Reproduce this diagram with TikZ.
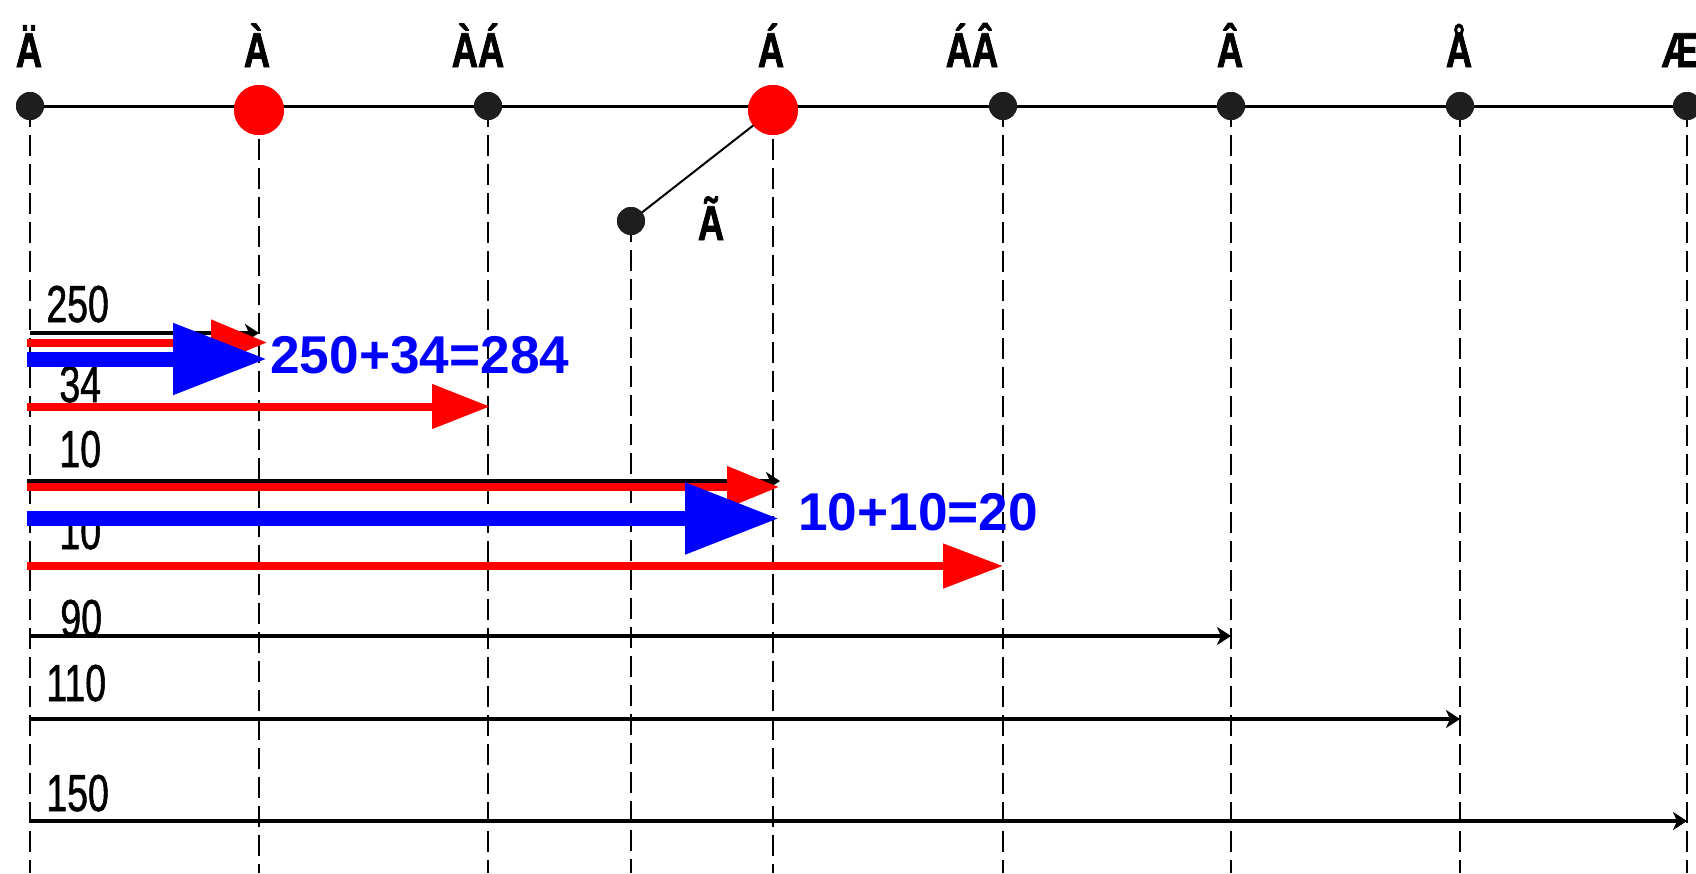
\documentclass[tikz,border=0pt]{standalone}
\usepackage{fontspec}
\setmainfont{Liberation Sans}
\newfontfamily\narrowfont[FakeStretch=0.72,FakeBold=1]{Liberation Sans}
\newfontfamily\narrowboldfont[FakeStretch=0.74,FakeBold=1.5]{Liberation Sans Bold}
\usetikzlibrary{arrows.meta}
\definecolor{dotgray}{HTML}{1E1E1E}
\begin{document}
\begin{tikzpicture}[x=0.5pt,y=-0.5pt,
  axis/.style={line width=1.5pt},
  guide/.style={line width=1pt, dash pattern=on 10.5pt off 4pt},
  link/.style={line width=1pt},
  bdot/.style={circle, fill=dotgray, minimum size=14pt, inner sep=0pt},
  rdot/.style={circle, fill=red, minimum size=25pt, inner sep=0pt},
  toplab/.style={font=\narrowboldfont\fontsize{24.5}{24.5}\selectfont, anchor=base, inner sep=0pt},
  numlab/.style={font=\narrowfont\fontsize{26}{26}\selectfont, anchor=base west, inner sep=0pt},
  sumlab/.style={font=\bfseries\fontsize{26.6}{26.6}\selectfont, text=blue, anchor=west, inner sep=0pt},
  thinarrow/.style={line width=1.6pt, -{Stealth[length=7pt,width=9pt,inset=2pt]}},
  redarrow/.style={draw=red, line width=4pt},
  bluearrow/.style={draw=blue, line width=7.5pt, -{Triangle[length=47pt,width=34pt]}},
]
\useasboundingbox (0,0) rectangle (1696,873);
\coordinate (bot) at (0,873);
% dots
\node[bdot] (d0) at (30,106) {};
\node[rdot] (d1) at (259,110) {};
\node[bdot] (d2) at (488,106) {};
\node[rdot] (d3) at (773,110) {};
\node[bdot] (d4) at (1003,106) {};
\node[bdot] (d5) at (1231,106) {};
\node[bdot] (d6) at (1460,106) {};
\node[bdot] (d7) at (1687,106) {};
\node[bdot] (dt) at (631,221) {};
% guides
\foreach \n in {d0,d1,d2,d3,d4,d5,d6,d7,dt}{
  \draw[guide] (\n.center) -- (\n.center |- bot);
}
\draw[axis] (d0.center) -- (d7.center);
\draw[link] (dt.center) -- (d3.center);
% redraw dots on top
\foreach \n/\s in {d0/bdot,d1/rdot,d2/bdot,d3/rdot,d4/bdot,d5/bdot,d6/bdot,d7/bdot,dt/bdot}{
  \node[\s] at (\n) {};
}
% top labels
\node[toplab] (l0) at (29,67) {Ä};
\node[toplab] (l1) at (257,67) {À};
\node[toplab] (l2) at (478,67) {ÀÁ};
\node[toplab] (l3) at (771,67) {Á};
\node[toplab] (l4) at (972,67) {ÁÂ};
\node[toplab] (l5) at (1230,67) {Â};
\node[toplab] (l6) at (1459,67) {Å};
\node[toplab] (l7) at (1680,67) {Æ};
\node[toplab] (lt) at (711,240) {Ã};
% number labels
\node[numlab] (n1) at (46,322) {250};
\node[numlab] (n2) at (59,402) {34};
\node[numlab] (n3) at (59,467) {10};
\node[numlab] (n4) at (59,549) {10};
\node[numlab] (n5) at (60,636) {90};
\node[numlab] (n6) at (46,701) {110};
\node[numlab] (n7) at (46,811) {150};
% arrow coordinates
\coordinate (a1s) at (30,333);   \coordinate (a1e) at (259,333);
\coordinate (a2s) at (27,481);   \coordinate (a2e) at (780,481);
\coordinate (a3s) at (30,636);   \coordinate (a3e) at (1231,636);
\coordinate (a4s) at (30,719);   \coordinate (a4e) at (1460,719);
\coordinate (a5s) at (30,821);   \coordinate (a5e) at (1687,821);
\coordinate (r1s) at (27,342.5); \coordinate (r1e) at (267,342.5);
\coordinate (r2s) at (27,406.5); \coordinate (r2e) at (490,406.5);
\coordinate (r3s) at (27,487);   \coordinate (r3e) at (779,487);
\coordinate (r4s) at (27,566);   \coordinate (r4e) at (1003,566);
\coordinate (b1s) at (27,359);   \coordinate (b1e) at (267,359);
\coordinate (b2s) at (27,518.5); \coordinate (b2e) at (779,518.5);
% black arrows
\draw[thinarrow] (a1s) -- (a1e);
\draw[thinarrow] (a2s) -- (a2e);
\draw[thinarrow] (a3s) -- (a3e);
\draw[thinarrow] (a4s) -- (a4e);
\draw[thinarrow] (a5s) -- (a5e);
% red arrows
\draw[redarrow, -{Triangle[length=28pt,width=22pt]}] (r1s) -- (r1e);
\draw[redarrow, -{Triangle[length=29pt,width=21.5pt]}] (r2s) -- (r2e);
\draw[redarrow, -{Triangle[length=26pt,width=20pt]}] (r3s) -- (r3e);
\draw[redarrow, -{Triangle[length=30pt,width=21.5pt]}] (r4s) -- (r4e);
% blue arrows
\draw[bluearrow] (b1s) -- (b1e);
\draw[bluearrow] (b2s) -- (b2e);
% sums
\node[sumlab] (s1) at (270,355) {250+34=284};
\node[sumlab] (s2) at (798,512) {10+10=20};
\end{tikzpicture}
\end{document}
